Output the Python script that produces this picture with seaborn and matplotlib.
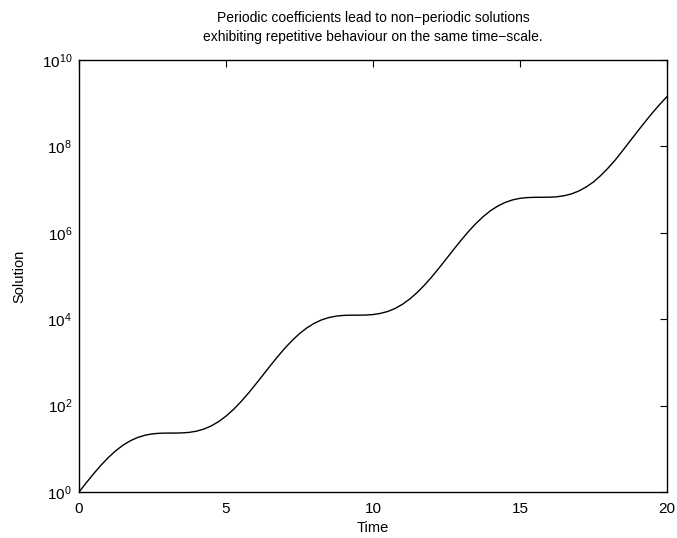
import numpy as np
import pandas as pd
import matplotlib
matplotlib.use("Agg")
import matplotlib.pyplot as plt
import seaborn as sns

# Values (time, log10 of solution)
time = [0.0, 0.25, 0.5, 0.75, 1.0, 1.25, 1.5, 1.75, 2.0, 2.25,
        2.5, 2.75, 3.0, 3.25, 3.5, 3.75, 4.0, 4.25, 4.5, 4.75,
        5.0, 5.25, 5.5, 5.75, 6.0, 6.25, 6.5, 6.75, 7.0, 7.25,
        7.5, 7.75, 8.0, 8.25, 8.5, 8.75, 9.0, 9.25, 9.5, 9.75,
        10.0, 10.25, 10.5, 10.75, 11.0, 11.25, 11.5, 11.75, 12.0, 12.25,
        12.5, 12.75, 13.0, 13.25, 13.5, 13.75, 14.0, 14.25, 14.5, 14.75,
        15.0, 15.25, 15.5, 15.75, 16.0, 16.25, 16.5, 16.75, 17.0, 17.25,
        17.5, 17.75, 18.0, 18.25, 18.5, 18.75, 19.0, 19.25, 19.5, 19.75, 20.0]
log10_solution = [0.000, 0.216, 0.425, 0.622, 0.800, 0.955, 1.085, 1.187, 1.263, 1.315,
                  1.346, 1.360, 1.364, 1.364, 1.368, 1.380, 1.408, 1.457, 1.530, 1.629,
                  1.755, 1.907, 2.082, 2.276, 2.485, 2.700, 2.916, 3.127, 3.325, 3.506,
                  3.665, 3.798, 3.904, 3.983, 4.038, 4.071, 4.088, 4.093, 4.093, 4.096,
                  4.107, 4.134, 4.178, 4.247, 4.343, 4.465, 4.614, 4.786, 4.978, 5.185,
                  5.400, 5.617, 5.828, 6.029, 6.212, 6.374, 6.511, 6.620, 6.703, 6.761,
                  6.797, 6.815, 6.821, 6.822, 6.824, 6.833, 6.857, 6.899, 6.966, 7.058,
                  7.175, 7.325, 7.498, 7.690, 7.905, 8.125, 8.345, 8.560, 8.770, 8.965, 9.150]
x_ticks = [0, 5, 10, 15, 20]
y_ticks = [1e0, 1e2, 1e4, 1e6, 1e8, 1e10]
title_text = "Periodic coefficients lead to non\u2212periodic solutions\nexhibiting repetitive behaviour on the same time\u2212scale."

df = pd.DataFrame({"Time": time, "Solution": 10 ** np.array(log10_solution)})

sns.set_theme(style="white")
plt.rcParams["font.family"] = ["Liberation Sans", "DejaVu Sans"]
plt.rcParams["mathtext.fontset"] = "custom"
plt.rcParams["mathtext.rm"] = "Liberation Sans"

fig = plt.figure(figsize=(6.77, 5.38), dpi=100)
ax = fig.add_axes([0.1167, 0.0855, 0.8683, 0.803])

sns.lineplot(data=df, x="Time", y="Solution", ax=ax, color="black", linewidth=1.0)

ax.set_yscale("log")
ax.set_xlim(0, 20)
ax.set_ylim(1e0, 1e10)
ax.set_xticks(x_ticks)
ax.set_yticks(y_ticks)
ax.yaxis.set_minor_locator(matplotlib.ticker.NullLocator())
ax.xaxis.set_minor_locator(matplotlib.ticker.NullLocator())
ax.tick_params(direction="in", top=True, right=True, length=5, width=0.8,
               colors="black", labelsize=11, pad=5)
ax.tick_params(axis="x", pad=7)

for s in ax.spines.values():
    s.set_color("black")
    s.set_linewidth(1.0)

ax.set_xlabel("Time", fontsize=10.5, labelpad=4, color="black")
ax.set_ylabel("Solution", fontsize=10.5, labelpad=11, color="black")
ax.set_title(title_text, fontsize=10, color="black", pad=14, linespacing=1.45)

fig.savefig("out.png", dpi=100, facecolor="white")
